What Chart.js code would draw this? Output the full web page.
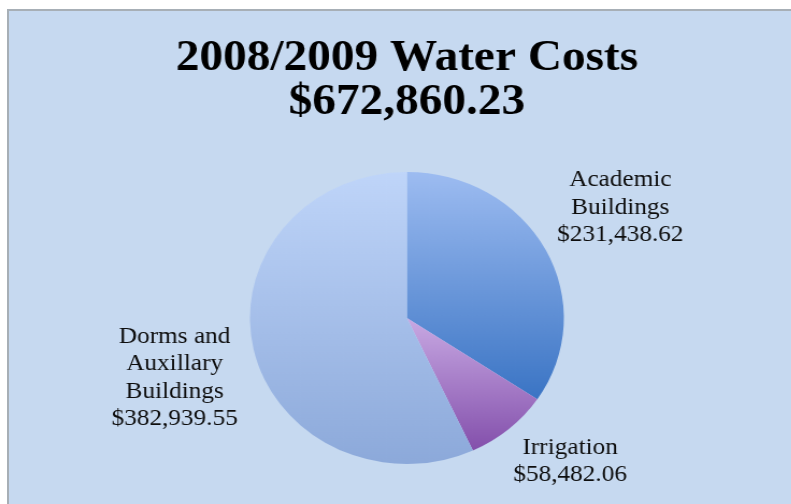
<!DOCTYPE html>
<html><head><meta charset="utf-8">
<script src="https://cdn.jsdelivr.net/npm/chart.js@4.4.1/dist/chart.umd.min.js"></script>
<style>
html,body{margin:0;padding:0;background:#fff;overflow:hidden;width:791px;height:504px;}
#frame{position:absolute;left:7px;top:9px;width:820px;height:520px;background:#c6d9f0;border-top:2px solid #a7afb6;border-left:2px solid #a7afb6;}
#wrap{position:absolute;left:0;top:0;width:736px;height:504px;transform:scaleX(1.075);transform-origin:0 0;}
</style></head>
<body>
<div id="frame"></div>
<div id="wrap"><canvas id="c"></canvas></div>
<script>
const titleLines = ['2008/2009 Water Costs', '$672,860.23'];
const categories = ['Academic Buildings', 'Irrigation', 'Dorms and Auxillary Buildings'];
const values = [231438.62, 58482.06, 382939.55];
const labelLines = [
  ['Academic', 'Buildings', '$231,438.62'],
  ['Irrigation', '$58,482.06'],
  ['Dorms and', 'Auxillary', 'Buildings', '$382,939.55']
];

// gradient stops per slice: [startFraction, endFraction of chart area height, topColor, bottomColor]
const grad = [
  [0.0, 0.78, '#9dbcf1', '#3a74c4'],
  [0.5, 0.98, '#c8a9e3', '#7f4aa8'],
  [0.0, 1.0, '#bfd5f9', '#8ca9da']
];
const labelOffsets = [[1.36, -0.755], [1.04, 0.98], [-1.48, 0.41]];

const sliceLabels = {
  id: 'sliceLabels',
  afterDatasetsDraw(chart) {
    const ctx = chart.ctx;
    const meta = chart.getDatasetMeta(0);
    ctx.save();
    ctx.font = '23.5px "Liberation Serif"';
    ctx.fillStyle = '#0d0d0d';
    ctx.textAlign = 'center';
    ctx.textBaseline = 'middle';
    const lh = 27.5;
    meta.data.forEach((arc, i) => {
      const r = arc.outerRadius;
      const cx = arc.x + labelOffsets[i][0] * r;
      const cy = arc.y + labelOffsets[i][1] * r;
      const lines = labelLines[i];
      const y0 = cy - (lines.length - 1) * lh / 2;
      lines.forEach((t, k) => ctx.fillText(t, cx, y0 + k * lh));
    });
    ctx.restore();
  }
};

new Chart(document.getElementById('c'), {
  type: 'pie',
  data: {
    labels: categories,
    datasets: [{
      data: values,
      borderWidth: 0,
      backgroundColor: (c) => {
        const chart = c.chart;
        const a = chart.chartArea;
        const g = grad[c.dataIndex];
        if (!a) return g[2];
        const h = a.bottom - a.top;
        const lg = chart.ctx.createLinearGradient(0, a.top + g[0] * h, 0, a.top + g[1] * h);
        lg.addColorStop(0, g[2]);
        lg.addColorStop(1, g[3]);
        return lg;
      }
    }]
  },
  options: {
    responsive: true,
    maintainAspectRatio: false,
    animation: false,
    events: [],
    layout: { padding: { left: 21, right: 0, top: 0, bottom: 40 } },
    plugins: {
      legend: { display: false },
      tooltip: { enabled: false },
      title: {
        display: true,
        text: titleLines,
        color: '#000',
        font: { family: '"Liberation Serif"', size: 44, weight: 'bold', lineHeight: 1.0 },
        padding: { top: 37, bottom: 47 }
      }
    }
  },
  plugins: [sliceLabels]
});
</script>
</body></html>
